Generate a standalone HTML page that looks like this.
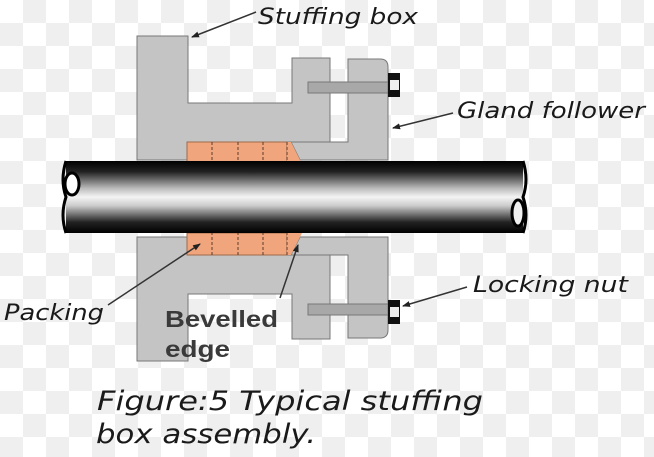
<!DOCTYPE html>
<html><head><meta charset="utf-8"><style>
html,body{margin:0;padding:0;background:#fff;}
svg{display:block;}
.lbl{font-family:"DejaVu Sans","Liberation Sans",sans-serif;font-style:italic;fill:#1a1a1a;}
</style></head><body>
<svg width="654" height="457" viewBox="0 0 654 457" xmlns="http://www.w3.org/2000/svg">
<defs>
<pattern id="chk" width="46" height="46" patternUnits="userSpaceOnUse">
<rect width="46" height="46" fill="#fff"/>
<rect x="23" y="0" width="23" height="23" fill="#efefef"/>
<rect x="0" y="23" width="23" height="23" fill="#efefef"/>
</pattern>
<linearGradient id="shaft" x1="0" y1="0" x2="0" y2="1">
<stop offset="0" stop-color="#000"/>
<stop offset="0.15" stop-color="#222"/>
<stop offset="0.38" stop-color="#bbb"/>
<stop offset="0.5" stop-color="#f4f4f4"/>
<stop offset="0.62" stop-color="#ccc"/>
<stop offset="0.85" stop-color="#222"/>
<stop offset="1" stop-color="#000"/>
</linearGradient>
<marker id="ah" markerWidth="8" markerHeight="6" refX="7" refY="3" orient="auto" markerUnits="userSpaceOnUse">
<path d="M0,0 L8,3 L0,6 Z" fill="#222"/>
</marker>
</defs>
<rect width="654" height="457" fill="url(#chk)"/>

<g id="top" stroke="#777" stroke-width="1">
<path d="M137,36 H188 V103 H292 V58 H330 V142 H187 V160 H137 Z" fill="#c4c4c4"/>
<path d="M348,59 H380 Q388,59 388,67 V160 H300 L291,142 H330 V142 H348 Z" fill="#c4c4c4"/>
<rect x="308" y="82" width="80" height="11" fill="#a8a8a8"/>
<rect x="388" y="73" width="12" height="24" fill="#111" stroke="none"/>
<rect x="390" y="80" width="9" height="10" fill="#eee" stroke="none"/>
<rect x="187" y="142" width="100" height="22" fill="#f0a57d" stroke="#a06a4a"/>
<path d="M287,142 H291 L302,164 H287 Z" fill="#f0a57d" stroke="none"/>
<g stroke="#5a3a2a" stroke-dasharray="3,2"><line x1="212" y1="142" x2="212" y2="164"/><line x1="238" y1="142" x2="238" y2="164"/><line x1="263" y1="142" x2="263" y2="164"/><line x1="287" y1="142" x2="287" y2="164"/></g>
</g>
<use href="#top" transform="translate(0,397) scale(1,-1)"/>

<rect x="66" y="161" width="457" height="72" fill="url(#shaft)"/>
<path d="M66,161 Q60,180 66,197 Q60,215 66,233" fill="none" stroke="#000" stroke-width="3"/>
<ellipse cx="72" cy="184" rx="7" ry="11" fill="#fff" stroke="#000" stroke-width="3"/>
<path d="M523,161 Q529,180 523,197 Q529,215 523,233" fill="none" stroke="#000" stroke-width="3"/>
<ellipse cx="518" cy="213" rx="6" ry="13" fill="#f0f0f0" stroke="#000" stroke-width="3"/>

<g stroke="#333" stroke-width="1.5" fill="none" marker-end="url(#ah)">
<line x1="256" y1="12" x2="192" y2="37"/>
<line x1="453" y1="113" x2="393" y2="128"/>
<line x1="467" y1="287" x2="403" y2="306"/>
<line x1="108" y1="305" x2="200" y2="244"/>
<line x1="280" y1="298" x2="298" y2="245"/>
</g>

<text class="lbl" x="258" y="24" font-size="22" textLength="160" lengthAdjust="spacingAndGlyphs">Stuffing box</text>
<text class="lbl" x="457" y="118" font-size="22" textLength="188" lengthAdjust="spacingAndGlyphs">Gland follower</text>
<text class="lbl" x="473" y="292" font-size="22" textLength="155" lengthAdjust="spacingAndGlyphs">Locking nut</text>
<text class="lbl" x="4" y="320" font-size="22" textLength="100" lengthAdjust="spacingAndGlyphs">Packing</text>
<text x="165" y="327" font-family="'Liberation Sans',sans-serif" font-weight="bold" font-size="23" fill="#3a3a3a" textLength="113" lengthAdjust="spacingAndGlyphs">Bevelled</text>
<text x="165" y="357" font-family="'Liberation Sans',sans-serif" font-weight="bold" font-size="23" fill="#3a3a3a" textLength="65" lengthAdjust="spacingAndGlyphs">edge</text>
<text class="lbl" x="97" y="410" font-size="27" textLength="386" lengthAdjust="spacingAndGlyphs">Figure:5 Typical stuffing</text>
<text class="lbl" x="96" y="443" font-size="27" textLength="220" lengthAdjust="spacingAndGlyphs">box assembly.</text>
</svg>
</body></html>
